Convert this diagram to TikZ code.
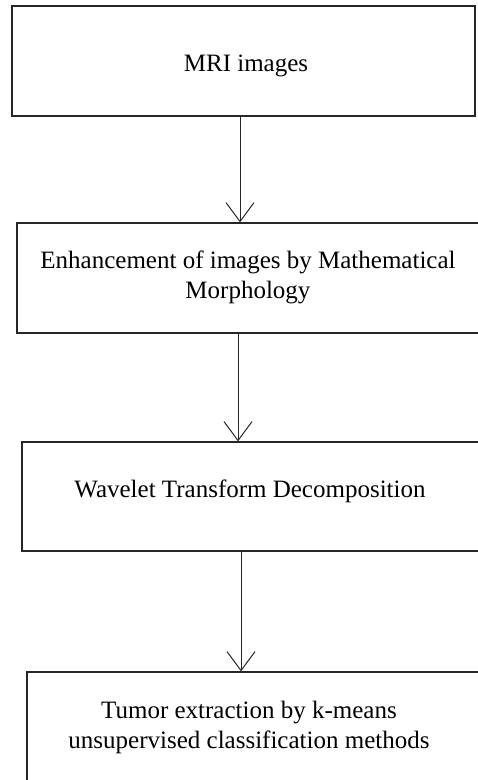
\documentclass[tikz,border=0pt]{standalone}
\usepackage{fontspec}
\setmainfont{Liberation Serif}
\usetikzlibrary{arrows.meta}

\tikzset{
  stagebox/.style={draw=black!85, line width=1.2pt, rectangle, inner sep=0pt},
  stagetext/.style={font=\fontsize{25}{29.5}\selectfont, align=center, inner sep=0pt, anchor=base},
  flowarrow/.style={draw=black!85, line width=1pt,
    -{Straight Barb[length=19pt, width=28pt, line width=1pt]}}
}

\begin{document}
\begin{tikzpicture}[x=1pt, y=-1pt]
  \clip (0,0) rectangle (478,780);
  \fill[white] (0,0) rectangle (478,780);

  % processing stages, top to bottom
  \node[stagebox, minimum width=463pt, minimum height=110pt] (b1) at (243.5,61) {};
  \node[stagebox, minimum width=463pt, minimum height=110pt] (b2) at (248.5,278) {};
  \node[stagebox, minimum width=463pt, minimum height=109pt] (b3) at (253.5,496.5) {};
  \node[stagebox, minimum width=463pt, minimum height=110pt] (b4) at (258.5,727) {};

  % stage captions
  \node[stagetext] (t1) at (246,71) {MRI images};
  \node[stagetext] (t2) at (248,298) {Enhancement of images by Mathematical\\Morphology};
  \node[stagetext] (t3) at (250,497) {Wavelet Transform Decomposition};
  \node[stagetext] (t4) at (249,748) {Tumor extraction by k-means\\unsupervised classification methods};

  % connectors between the stages
  \draw[flowarrow] (b1.south -| 240,0) -- (b2.north -| 240,0);
  \draw[flowarrow] (b2.south -| 238,0) -- (b3.north -| 238,0);
  \draw[flowarrow] (b3.south -| 241,0) -- (b4.north -| 241,0);
\end{tikzpicture}
\end{document}
